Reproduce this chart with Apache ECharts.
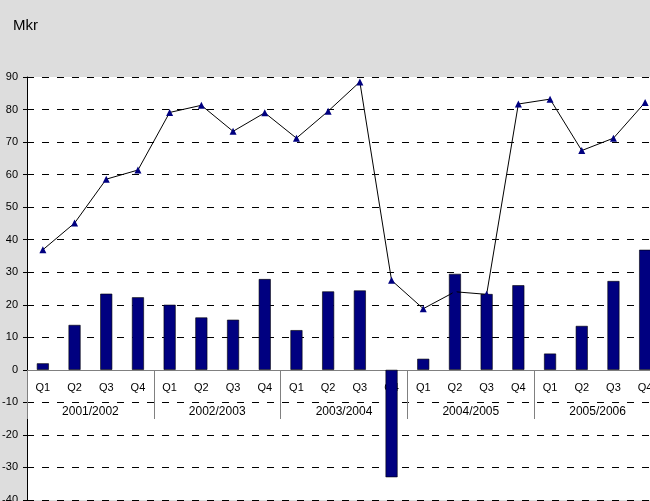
<!DOCTYPE html>
<html>
<head>
<meta charset="utf-8">
<script src="https://cdn.jsdelivr.net/npm/echarts@6/dist/echarts.min.js"></script>
<style>
html,body{margin:0;padding:0;overflow:hidden;background:#dddddd;}
#chart{width:670px;height:510px;}
</style>
</head>
<body>
<div id="chart"></div>
<script>
const quarters = ['Q1','Q2','Q3','Q4','Q1','Q2','Q3','Q4','Q1','Q2','Q3','Q4','Q1','Q2','Q3','Q4','Q1','Q2','Q3','Q4'];
const years = ['2001/2002','2002/2003','2003/2004','2004/2005','2005/2006'];
const barValues = [2.0,13.8,23.4,22.3, 20.0,16.1,15.4,27.9, 12.2,24.1,24.4,-33.0, 3.4,29.5,23.3,26.0, 5.0,13.5,27.3,36.9];
const lineValues = [36.9,45.1,58.6,61.4, 79.1,81.3,73.3,79.0, 71.2,79.5,88.5,27.5, 18.8,24.0,23.2,81.7, 83.2,67.4,71.2,82.2];
const yMin = -40, yMax = 90, yStep = 10;

const chart = echarts.init(document.getElementById('chart'), null, {renderer:'canvas'});
const font = 'Arial, "Liberation Sans", sans-serif';
const zeroOffset = -130;
chart.setOption({
  animation:false,
  backgroundColor:'#dddddd',
  title:{text:'Mkr', left:8, top:13, textStyle:{fontFamily:font, fontSize:15, fontWeight:'normal', color:'#000'}},
  grid:{left:27, right:9, top:77, bottom:10, show:true, backgroundColor:'#ffffff', borderWidth:0, outerBoundsMode:'none', containLabel:false},
  xAxis:[
    {type:'category', data:quarters, position:'bottom', boundaryGap:true, offset:zeroOffset,
     axisLine:{onZero:false, lineStyle:{color:'#808080', width:1}},
     axisTick:{show:false},
     axisLabel:{fontFamily:font, fontSize:11, color:'#000', margin:12, interval:0},
     splitLine:{show:false}},
    {type:'category', data:years, position:'bottom', boundaryGap:true, offset:zeroOffset,
     axisLine:{onZero:false, show:false},
     axisTick:{show:true, interval:0, length:49, lineStyle:{color:'#808080', width:1}},
     axisLabel:{fontFamily:font, fontSize:12, color:'#000', margin:36, interval:0},
     splitLine:{show:false}}
  ],
  yAxis:{type:'value', min:yMin, max:yMax, interval:yStep,
    axisLine:{show:true, onZero:false, lineStyle:{color:'#000', width:1}},
    axisTick:{show:true, length:4, lineStyle:{color:'#000'}},
    axisLabel:{fontFamily:font, fontSize:11, color:'#000', margin:9},
    splitLine:{show:true, lineStyle:{color:'#000', width:1, type:[7,8], dashOffset:0}}
  },
  series:[
    {type:'bar', data:barValues, xAxisIndex:0, barWidth:12,
     itemStyle:{color:'#000080', borderColor:'#000', borderWidth:0.6}, z:2},
    {type:'line', data:lineValues, xAxisIndex:0, symbol:'triangle', symbolSize:7,
     lineStyle:{color:'#000', width:1}, itemStyle:{color:'#000080'}, z:3}
  ]
});
</script>
</body>
</html>
